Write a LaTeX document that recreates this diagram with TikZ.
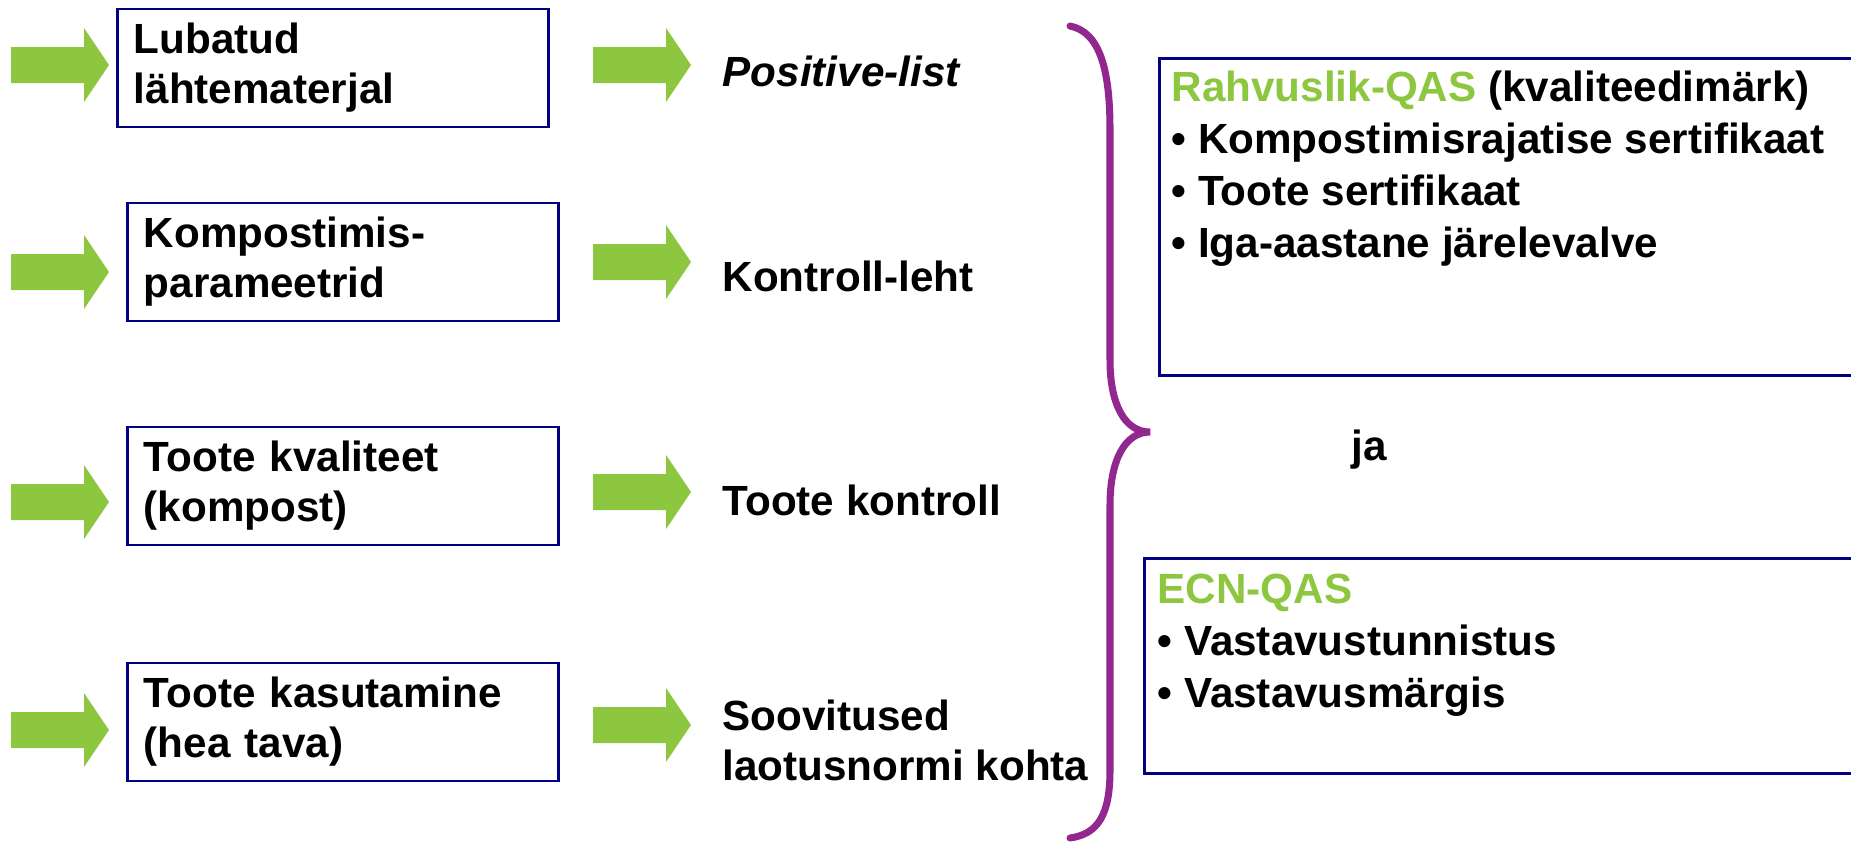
\documentclass[tikz,border=0pt]{standalone}
\usepackage{fontspec}
\setmainfont{Liberation Sans}
\usepackage{xcolor}
\usepackage{tikz}
\usetikzlibrary{positioning}
\definecolor{leafgreen}{RGB}{141,198,63}
\definecolor{boxnavy}{RGB}{0,0,128}
\definecolor{bracepurple}{RGB}{146,39,143}

\begin{document}
\begin{tikzpicture}[x=0.01cm,y=-0.01cm,
font=\fontsize{12}{14.2}\selectfont\bfseries,
stepbox/.style={draw=boxnavy,line width=0.8pt,text width=3.98cm,inner xsep=0.16cm,inner ysep=0pt,align=left,minimum height=1.18cm},
outcome/.style={anchor=west,align=left,inner sep=0pt},
qasbox/.style={draw=boxnavy,line width=0.8pt,anchor=north west,minimum width=7.5cm,inner sep=0pt},
qastext/.style={anchor=north west,align=left,inner sep=0pt,font=\fontsize{12}{14.8}\selectfont\bfseries},
greenarrow/.pic={\fill[leafgreen] (0,-18)--(73,-18)--(73,-37)--(98,0)--(73,37)--(73,18)--(0,18)--cycle;},
brace/.style={draw=bracepurple,line width=2pt,line cap=round}
]
\clip (0,0) rectangle (1851,841);

\pic at (11,65) {greenarrow};
\pic at (11,272) {greenarrow};
\pic at (11,502) {greenarrow};
\pic at (11,730) {greenarrow};

\node[stepbox] (lubatud) at (333,68) {Lubatud\\lähtematerjal};
\node[stepbox] (parameetrid) at (343,262) {Kompostimis-\\parameetrid};
\node[stepbox] (kvaliteet) at (343,486) {Toote kvaliteet\\(kompost)};
\node[stepbox] (kasutamine) at (343,722) {Toote kasutamine\\(hea tava)};

\pic at (593,65) {greenarrow};
\pic at (593,262) {greenarrow};
\pic at (593,492) {greenarrow};
\pic at (593,725) {greenarrow};

\node[outcome] (positive) at (722,71) {\itshape Positive-list};
\node[outcome] (kontrollleht) at (722,276) {Kontroll-leht};
\node[outcome] (tootekontroll) at (722,500) {Toote kontroll};
\node[outcome] (soovitused) at (722,740) {Soovitused\\laotusnormi kohta};

\draw[brace] (1070,26) .. controls (1100,32) and (1110,70) .. (1110,130) -- (1110,360)
  .. controls (1110,405) and (1125,432) .. (1150,432)
  .. controls (1125,432) and (1110,460) .. (1110,505) -- (1110,770)
  .. controls (1110,815) and (1098,834) .. (1070,838);

\node[qasbox,minimum height=3.17cm] (rahvuslik) at (1158,57) {};
\node[qastext] (rahvusliktxt) at (1171,70) {{\color{leafgreen}Rahvuslik-QAS} (kvaliteedimärk)\\
  • Kompostimisrajatise sertifikaat\\• Toote sertifikaat\\• Iga-aastane järelevalve};

\node (ja) at (1369,450) {ja};

\node[qasbox,minimum height=2.15cm] (ecn) at (1143,557) {};
\node[qastext] (ecntxt) at (1157,573) {{\color{leafgreen}ECN-QAS}\\• Vastavustunnistus\\• Vastavusmärgis};
\end{tikzpicture}
\end{document}
